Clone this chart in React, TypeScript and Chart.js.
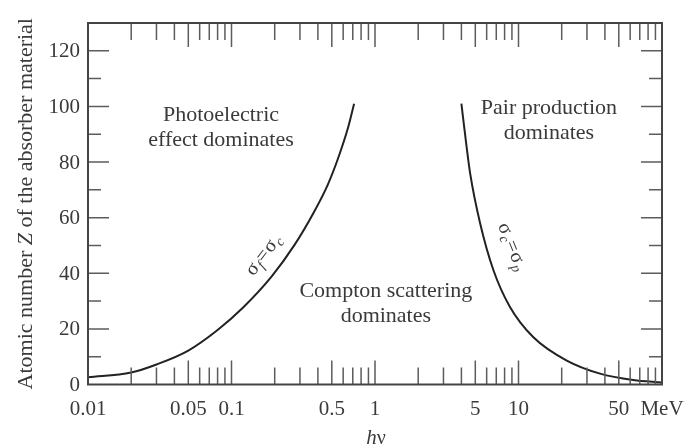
import React, { useEffect, useRef } from "react";
import { Chart, registerables } from "chart.js";

Chart.register(...registerables);

// photoelectric / Compton boundary (sigma_f = sigma_c)
const photoEnergy = [0.01, 0.02, 0.03, 0.05, 0.08, 0.12, 0.19, 0.275, 0.38, 0.47, 0.55, 0.65, 0.715];
const photoZ = [2.6, 4.3, 7.2, 12.2, 19.6, 27.6, 38.8, 50.2, 62.5, 72, 81, 92.5, 101];

// Compton / pair production boundary (sigma_c = sigma_p)
const pairEnergy = [4.0, 4.3, 4.6, 5.4, 6.7, 8.7, 12.7, 21.7, 37, 63, 100];
const pairZ = [101, 87.5, 76, 58, 41, 28, 17, 8.6, 3.9, 1.6, 0.7];

// axis ticks
const xMajorTicks = [0.05, 0.1, 0.5, 1, 5, 10, 50];
const xMinorTicks = [
  0.02, 0.03, 0.04, 0.06, 0.07, 0.08, 0.09,
  0.2, 0.3, 0.4, 0.6, 0.7, 0.8, 0.9,
  2, 3, 4, 6, 7, 8, 9,
  20, 30, 40, 60, 70, 80, 90,
];
const xLabelValues = [0.01, 0.05, 0.1, 0.5, 1, 5, 10, 50, 100];
const xLabelTexts = ["0.01", "0.05", "0.1", "0.5", "1", "5", "10", "50", "MeV"];

const yMajorTicks = [20, 40, 60, 80, 100, 120];
const yMinorTicks = [10, 30, 50, 70, 90, 110];
const yLabelValues = [0, 20, 40, 60, 80, 100, 120];
const yLabelTexts = ["0", "20", "40", "60", "80", "100", "120"];

// region annotations (anchored in data coordinates)
const regionTexts = [
  ["Photoelectric", "effect dominates"],
  ["Pair production", "dominates"],
  ["Compton scattering", "dominates"],
];
const regionEnergy = [0.0845, 16.3, 1.19];
const regionZ = [94.8, 97.3, 31.6];

const SERIF = "'Liberation Serif', 'Times New Roman', serif";
const TEXT = "#3a3a3a";

type Run = { t: string; font: string; dy?: number };

function drawRuns(ctx: CanvasRenderingContext2D, runs: Run[], gap = 0) {
  let total = 0;
  const widths = runs.map((r) => {
    ctx.font = r.font;
    const w = ctx.measureText(r.t).width;
    total += w;
    return w;
  });
  total += gap * (runs.length - 1);
  let xx = -total / 2;
  runs.forEach((r, i) => {
    ctx.font = r.font;
    ctx.fillText(r.t, xx, r.dy || 0);
    xx += widths[i] + gap;
  });
}

const decorPlugin = {
  id: "decor",
  afterDatasetsDraw(chart: any) {
    const { ctx, chartArea: a, scales } = chart;
    const x = scales.x;
    const y = scales.y;
    ctx.save();

    // tick marks, pointing inward on all four sides
    ctx.strokeStyle = "#5c5c5c";
    ctx.lineWidth = 1.5;
    ctx.beginPath();
    const xt = (vals: number[], len: number) => {
      vals.forEach((v) => {
        const px = x.getPixelForValue(v);
        ctx.moveTo(px, a.bottom);
        ctx.lineTo(px, a.bottom - len);
        ctx.moveTo(px, a.top);
        ctx.lineTo(px, a.top + len);
      });
    };
    const yt = (vals: number[], len: number) => {
      vals.forEach((v) => {
        const py = y.getPixelForValue(v);
        ctx.moveTo(a.left, py);
        ctx.lineTo(a.left + len, py);
        ctx.moveTo(a.right, py);
        ctx.lineTo(a.right - len, py);
      });
    };
    xt(xMinorTicks, 17);
    xt(xMajorTicks, 24);
    yt(yMinorTicks, 13);
    yt(yMajorTicks, 21);
    ctx.stroke();

    // frame
    ctx.strokeStyle = "#444";
    ctx.lineWidth = 2;
    ctx.strokeRect(a.left, a.top, a.right - a.left, a.bottom - a.top);

    ctx.fillStyle = TEXT;

    // x tick labels
    ctx.font = `21px ${SERIF}`;
    ctx.textAlign = "center";
    ctx.textBaseline = "alphabetic";
    xLabelValues.forEach((v, i) => {
      ctx.fillText(xLabelTexts[i], x.getPixelForValue(v), a.bottom + 30.5);
    });

    // y tick labels
    ctx.textAlign = "right";
    ctx.textBaseline = "middle";
    yLabelValues.forEach((v, i) => {
      ctx.fillText(yLabelTexts[i], a.left - 8, y.getPixelForValue(v) + 1);
    });

    // x axis title  h(nu)
    ctx.textAlign = "left";
    ctx.textBaseline = "alphabetic";
    ctx.save();
    ctx.translate(x.getPixelForValue(1) + 1, a.bottom + 59);
    drawRuns(ctx, [
      { t: "h", font: `italic 21px ${SERIF}` },
      { t: "\u03bd", font: `20px ${SERIF}` },
    ]);
    ctx.restore();

    // y axis title
    ctx.save();
    ctx.translate(32, (a.top + a.bottom) / 2);
    ctx.rotate(-Math.PI / 2);
    drawRuns(ctx, [
      { t: "Atomic number ", font: `22px ${SERIF}` },
      { t: "Z", font: `italic 22px ${SERIF}` },
      { t: " of the absorber material", font: `22px ${SERIF}` },
    ]);
    ctx.restore();

    // region annotations
    ctx.textAlign = "center";
    ctx.font = `22px ${SERIF}`;
    regionTexts.forEach((lines, i) => {
      const px = x.getPixelForValue(regionEnergy[i]);
      const py = y.getPixelForValue(regionZ[i]);
      lines.forEach((ln, j) => ctx.fillText(ln, px, py + j * 25));
    });

    // curve labels
    ctx.textAlign = "left";
    ctx.textBaseline = "middle";
    ctx.save();
    ctx.translate(x.getPixelForValue(0.168), y.getPixelForValue(46.6));
    ctx.rotate((-52 * Math.PI) / 180);
    drawRuns(ctx, [
      { t: "\u03c3", font: `20px ${SERIF}` },
      { t: "f", font: `italic 14px ${SERIF}`, dy: 5 },
      { t: "=", font: `20px ${SERIF}` },
      { t: "\u03c3", font: `20px ${SERIF}` },
      { t: "c", font: `italic 14px ${SERIF}`, dy: 5 },
    ], 1);
    ctx.restore();

    ctx.save();
    ctx.translate(x.getPixelForValue(9.0), y.getPixelForValue(49.5));
    ctx.rotate((68 * Math.PI) / 180);
    drawRuns(ctx, [
      { t: "\u03c3", font: `20px ${SERIF}` },
      { t: "c", font: `italic 14px ${SERIF}`, dy: 5 },
      { t: "=", font: `20px ${SERIF}` },
      { t: "\u03c3", font: `20px ${SERIF}` },
      { t: "p", font: `italic 14px ${SERIF}`, dy: 5 },
    ], 1);
    ctx.restore();

    ctx.restore();
  },
};

export default function App() {
  const ref = useRef<HTMLCanvasElement | null>(null);

  useEffect(() => {
    if (!ref.current) return;
    const chart = new Chart(ref.current, {
      type: "line",
      data: {
        datasets: [
          {
            data: photoEnergy.map((e, i) => ({ x: e, y: photoZ[i] })),
            borderColor: "#222",
            borderWidth: 2,
            pointRadius: 0,
            fill: false,
            cubicInterpolationMode: "monotone",
          },
          {
            data: pairEnergy.map((e, i) => ({ x: e, y: pairZ[i] })),
            borderColor: "#222",
            borderWidth: 2,
            pointRadius: 0,
            fill: false,
            cubicInterpolationMode: "monotone",
          },
        ],
      },
      options: {
        animation: false,
        responsive: false,
        devicePixelRatio: 1,
        layout: { padding: { left: 88, top: 23, right: 24, bottom: 61.5 } },
        plugins: {
          legend: { display: false },
          title: { display: false },
          tooltip: { enabled: false },
        },
        events: [],
        scales: {
          x: { type: "logarithmic", min: 0.01, max: 100, display: false },
          y: { type: "linear", min: 0, max: 130, display: false },
        },
      },
      plugins: [decorPlugin],
    } as any);
    return () => chart.destroy();
  }, []);

  return (
    <div style={{ position: "fixed", left: 0, top: 0, width: 686, height: 446, background: "#fff" }}>
      <canvas ref={ref} width={686} height={446} style={{ display: "block" }} />
    </div>
  );
}
